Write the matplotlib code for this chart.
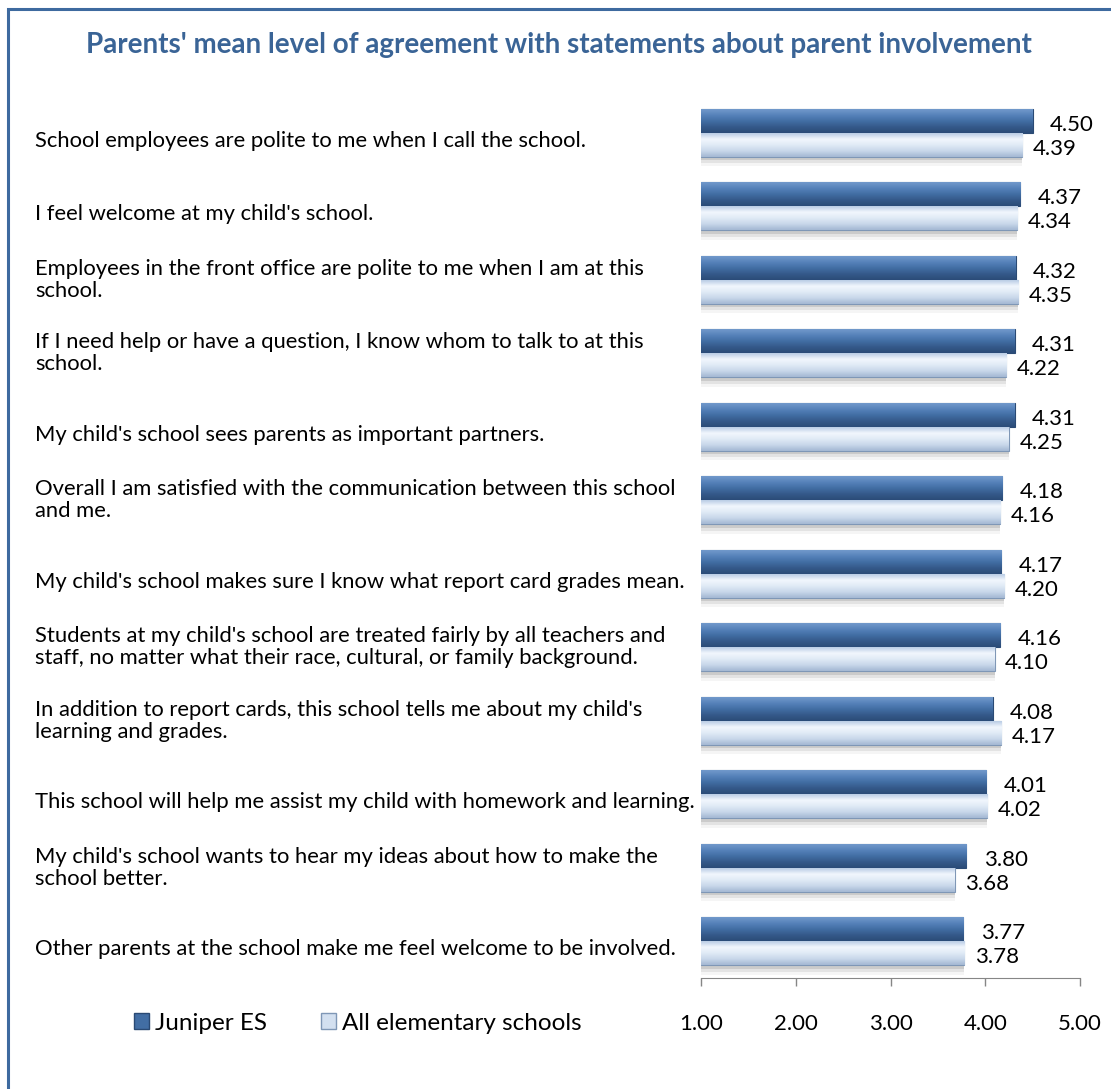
import numpy as np
import matplotlib
matplotlib.use("Agg")
import matplotlib.pyplot as plt
from matplotlib.colors import LinearSegmentedColormap
from matplotlib.patches import Patch, Rectangle
from matplotlib.transforms import blended_transform_factory

plt.rcParams['font.family'] = ['Lato', 'DejaVu Sans']

title = "Parents' mean level of agreement with statements about parent involvement"

statements = [
    "School employees are polite to me when I call the school.",
    "I feel welcome at my child's school.",
    "Employees in the front office are polite to me when I am at this\nschool.",
    "If I need help or have a question, I know whom to talk to at this\nschool.",
    "My child's school sees parents as important partners.",
    "Overall I am satisfied with the communication between this school\nand me.",
    "My child's school makes sure I know what report card grades mean.",
    "Students at my child's school are treated fairly by all teachers and\nstaff, no matter what their race, cultural, or family background.",
    "In addition to report cards, this school tells me about my child's\nlearning and grades.",
    "This school will help me assist my child with homework and learning.",
    "My child's school wants to hear my ideas about how to make the\nschool better.",
    "Other parents at the school make me feel welcome to be involved.",
]
juniper = [4.50, 4.37, 4.32, 4.31, 4.31, 4.18, 4.17, 4.16, 4.08, 4.01, 3.80, 3.77]
all_es = [4.39, 4.34, 4.35, 4.22, 4.25, 4.16, 4.20, 4.10, 4.17, 4.02, 3.68, 3.78]
series_names = ["Juniper ES", "All elementary schools"]
xticks = [1.0, 2.0, 3.0, 4.0, 5.0]

dark_grad = ['#7299cb', '#5682ba', '#426ea4', '#35598a', '#2b4c78']
light_grad = ['#b9cce5', '#f2f7fd', '#e0eaf6', '#c8d7ea', '#a4b8d3']

W, H = 1111, 1089
fig = plt.figure(figsize=(W / 100, H / 100), dpi=100)
ax = fig.add_axes([701 / W, 1 - 978 / H, (1080 - 701) / W, (978 - 96) / H])

y = np.arange(len(statements))
bh = 0.325
base = xticks[0]


def shade(bars, stops):
    cmap = LinearSegmentedColormap.from_list('g', stops)
    grad = np.linspace(0, 1, 64).reshape(-1, 1)
    for b in bars:
        x0, y0 = b.get_x(), b.get_y()
        w, h = b.get_width(), b.get_height()
        im = ax.imshow(grad, extent=(x0, x0 + w, y0 + h, y0), origin='upper',
                       cmap=cmap, aspect='auto', interpolation='bicubic',
                       zorder=b.get_zorder() + 0.1)
        im.set_clip_path(b)


# soft shadow under the lower bar
for off, a in [(0.05, 0.10), (0.09, 0.07), (0.13, 0.04)]:
    ax.barh(y + bh / 2 + off, np.array(all_es) - base, height=bh, left=base,
            color='black', alpha=a, linewidth=0, zorder=1)

b1 = ax.barh(y - bh / 2, np.array(juniper) - base, height=bh, left=base,
             color='#426ea4', edgecolor='#2a4a74', linewidth=0.8, zorder=3)
b2 = ax.barh(y + bh / 2, np.array(all_es) - base, height=bh, left=base,
             color='#dfe9f6', edgecolor='#7f97b6', linewidth=0.8, zorder=3)
shade(b1, dark_grad)
shade(b2, light_grad)

for yi, v in zip(y, juniper):
    ax.annotate(f"{v:.2f}", xy=(v, yi - bh / 2), xytext=(12.5, -3),
                textcoords='offset points', ha='left', va='center', fontsize=16)
for yi, v in zip(y, all_es):
    ax.annotate(f"{v:.2f}", xy=(v, yi + bh / 2), xytext=(7.5, -3),
                textcoords='offset points', ha='left', va='center', fontsize=16)

ax.set_xlim(1, 5)
ax.set_ylim(len(statements) - 0.5, -0.5)
ax.set_xticks(xticks)
ax.set_xticklabels([f"{t:.2f}" for t in xticks], fontsize=16)
ax.set_yticks([])
for s in ['left', 'right', 'top']:
    ax.spines[s].set_visible(False)
ax.spines['bottom'].set_color('#868686')
ax.tick_params(axis='x', direction='out', length=6, width=1, color='#868686', pad=20)

# category labels on the left
tr = blended_transform_factory(fig.transFigure, ax.transData)
for yi, s in zip(y, statements):
    dy = 0.11 if '\n' not in s else 0.0
    ax.text(35 / W, yi + dy, s, transform=tr, ha='left', va='center',
            fontsize=15.8, linespacing=1.12, color='black')

fig.text(0.503, 1 - 45 / H, title, ha='center', va='center', fontsize=20,
         fontweight='bold', color='#3a6496')

handles = [Patch(facecolor='#426ea4', edgecolor='#2a4a74'),
           Patch(facecolor='#d3e0f0', edgecolor='#7f97b6')]
fig.legend(handles, series_names, loc='center', bbox_to_anchor=(358 / W, 1 - 1023 / H),
           ncol=2, frameon=False, fontsize=17.5, handlelength=0.62, handleheight=0.62,
           handletextpad=0.25, columnspacing=2.2)

# chart frame (only top and left edges visible)
fig.add_artist(Rectangle((7.5 / W, -0.1), 1.2, 1 - 9 / H + 0.1, transform=fig.transFigure,
                         fill=False, edgecolor='#3e6a9f', linewidth=2.2))

fig.savefig('out.png', dpi=100)
